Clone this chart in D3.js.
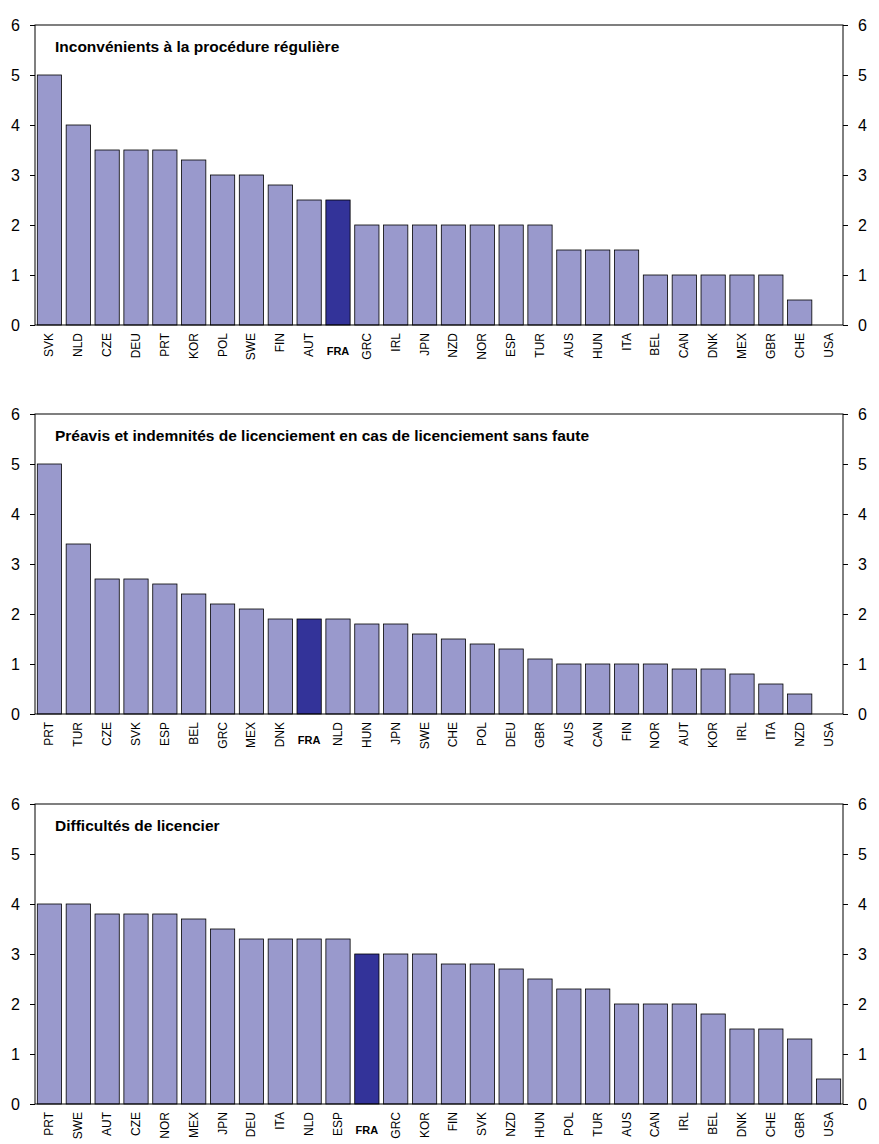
<!DOCTYPE html>
<html><head><meta charset="utf-8">
<script src="https://cdn.jsdelivr.net/npm/d3@7"></script>
<style>body{margin:0;background:#fff}text{font-family:"Liberation Sans",Arial,sans-serif}</style>
</head><body><div id="chart"></div>
<script>
// Panel titles
var titles = [
  "Inconvénients à la procédure régulière",
  "Préavis et indemnités de licenciement en cas de licenciement sans faute",
  "Difficultés  de licencier"
];
var countries1 = ["SVK","NLD","CZE","DEU","PRT","KOR","POL","SWE","FIN","AUT","FRA","GRC","IRL","JPN","NZD","NOR","ESP","TUR","AUS","HUN","ITA","BEL","CAN","DNK","MEX","GBR","CHE","USA"];
var values1 = [5,4,3.5,3.5,3.5,3.3,3,3,2.8,2.5,2.5,2,2,2,2,2,2,2,1.5,1.5,1.5,1,1,1,1,1,0.5,0];
var countries2 = ["PRT","TUR","CZE","SVK","ESP","BEL","GRC","MEX","DNK","FRA","NLD","HUN","JPN","SWE","CHE","POL","DEU","GBR","AUS","CAN","FIN","NOR","AUT","KOR","IRL","ITA","NZD","USA"];
var values2 = [5,3.4,2.7,2.7,2.6,2.4,2.2,2.1,1.9,1.9,1.9,1.8,1.8,1.6,1.5,1.4,1.3,1.1,1,1,1,1,0.9,0.9,0.8,0.6,0.4,0];
var countries3 = ["PRT","SWE","AUT","CZE","NOR","MEX","JPN","DEU","ITA","NLD","ESP","FRA","GRC","KOR","FIN","SVK","NZD","HUN","POL","TUR","AUS","CAN","IRL","BEL","DNK","CHE","GBR","USA"];
var values3 = [4,4,3.8,3.8,3.8,3.7,3.5,3.3,3.3,3.3,3.3,3,3,3,2.8,2.8,2.7,2.5,2.3,2.3,2,2,2,1.8,1.5,1.5,1.3,0.5];
var yTicks = [0,1,2,3,4,5,6];

var panels = [
  {cats: countries1, vals: values1, top: 25},
  {cats: countries2, vals: values2, top: 414},
  {cats: countries3, vals: values3, top: 804}
];

var svgWidth = 879, svgHeight = 1144;
var left = 35, right = 843, plotH = 300;

var svg = d3.select("#chart").append("svg")
  .attr("width", svgWidth).attr("height", svgHeight);

panels.forEach(function(p, i) {
  var g = svg.append("g").attr("transform", `translate(0, ${p.top})`);
  var x = d3.scaleBand().domain(p.cats).range([left, right]).paddingInner(0.16).paddingOuter(0.08);
  var y = d3.scaleLinear().domain([0, 6]).range([plotH, 0]);

  g.selectAll("rect.bar").data(p.cats).enter().append("rect")
    .attr("x", d => x(d))
    .attr("y", (d, j) => y(p.vals[j]))
    .attr("width", x.bandwidth())
    .attr("height", (d, j) => plotH - y(p.vals[j]))
    .attr("fill", d => d === "FRA" ? "#333399" : "#9999cc")
    .attr("stroke", "#000").attr("stroke-width", 0.8);

  g.append("rect").attr("x", left).attr("y", 0)
    .attr("width", right - left).attr("height", plotH)
    .attr("fill", "none").attr("stroke", "#000");

  var la = g.append("g").attr("transform", `translate(${left},0)`)
    .call(d3.axisLeft(y).tickValues(yTicks).tickFormat(d3.format("d")).tickSize(5).tickPadding(10));
  var ra = g.append("g").attr("transform", `translate(${right},0)`)
    .call(d3.axisRight(y).tickValues(yTicks).tickFormat(d3.format("d")).tickSize(5).tickPadding(10));
  [la, ra].forEach(function(a) {
    a.select(".domain").remove();
    a.selectAll("text").attr("font-size", 16).attr("fill", "#000");
  });

  // category labels
  p.cats.forEach(function(c) {
    var cx = x(c) + x.bandwidth() / 2;
    if (c === "FRA") {
      g.append("text").attr("x", cx).attr("y", plotH + 30)
        .attr("text-anchor", "middle").attr("font-size", 11).attr("font-weight", "bold").text(c);
    } else {
      g.append("text").attr("transform", `translate(${cx + 4},${plotH + 8}) rotate(-90)`)
        .attr("text-anchor", "end").attr("font-size", 12).text(c);
    }
  });

  g.append("text").attr("x", 55).attr("y", 27)
    .attr("font-size", 15.5).attr("font-weight", "bold").text(titles[i]);
});
</script></body></html>
